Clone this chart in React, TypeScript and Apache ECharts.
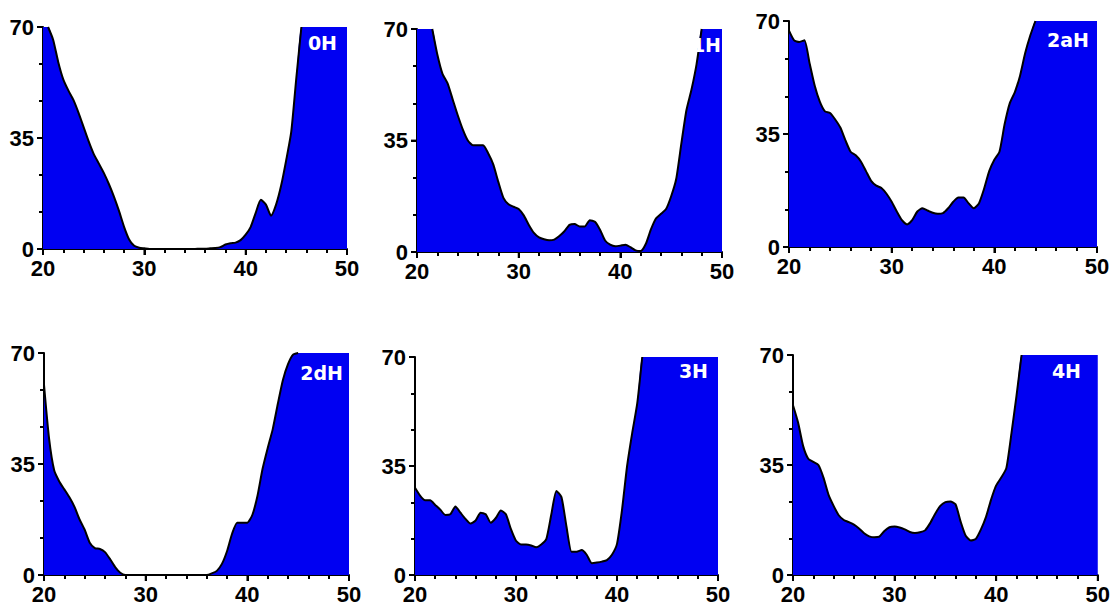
import React, { useEffect, useRef } from "react";
import * as echarts from "echarts";

// x positions (sampled every 0.5 unit)
const X = [
  20, 20.5, 21, 21.5, 22, 22.5, 23, 23.5, 24, 24.5, 25, 25.5, 26, 26.5, 27, 27.5, 28, 28.5, 29, 29.5,
  30, 30.5, 31, 31.5, 32, 32.5, 33, 33.5, 34, 34.5, 35, 35.5, 36, 36.5, 37, 37.5, 38, 38.5, 39, 39.5,
  40, 40.5, 41, 41.5, 42, 42.5, 43, 43.5, 44, 44.5, 45, 45.5, 46, 46.5, 47, 47.5, 48, 48.5, 49, 49.5,
  50,
];

const H0 = [
  70, 70, 66, 59, 53.5, 50, 47, 43, 38.5, 34, 30, 27, 24, 20.5, 16.5, 12, 7, 3, 1, 0.4,
  0.2, 0, 0, 0, 0, 0, 0, 0, 0, 0, 0, 0.1, 0.1, 0.2, 0.3, 0.6, 1.4, 1.8, 2, 2.8,
  4.5, 7, 11.5, 15.5, 14, 10.5, 14, 20, 28, 37, 54, 70, 70, 70, 70, 70, 70, 70, 70, 70,
  70,
];

const H1 = [
  70, 70, 70, 70, 62, 56, 53, 48, 43, 38.5, 35, 33.5, 33.5, 33.5, 31, 27.5, 22, 17, 15, 14.2,
  13.5, 11.5, 8.5, 6, 4.6, 4, 3.7, 3.9, 5, 6.5, 8.5, 8.8, 8, 8, 10, 9.5, 7, 3.6, 2.3, 1.8,
  2, 2.3, 1.5, 0.5, 0.3, 2.5, 7, 10.5, 12, 13.5, 17.5, 23, 34, 44.5, 51, 59, 70, 70, 70, 70,
  70,
];

const H2a = [
  67, 64, 63.5, 64, 57, 50, 45, 42, 41.5, 39.5, 37, 33, 29.5, 28.4, 26.5, 23.5, 20.5, 19, 18.3, 16.5,
  14, 11, 8.3, 7, 8.3, 11, 12, 11.3, 10.6, 10.3, 10.5, 12, 14, 15.3, 15.3, 13.5, 12, 13.5, 18, 23.5,
  27, 29.5, 38, 44.5, 48, 53, 60, 65.5, 70, 70, 70, 70, 70, 70, 70, 70, 70, 70, 70, 70,
  70,
];

const H2d = [
  60, 43, 33, 29.5, 27, 24.5, 21.5, 17.5, 14.3, 10.2, 8.5, 8.2, 7.2, 5, 2.5, 0.7, 0, 0, 0, 0,
  0, 0, 0, 0, 0, 0, 0, 0, 0, 0, 0, 0, 0, 0.5, 1.3, 3.5, 7.5, 13, 16.5, 16.5,
  16.5, 19, 25, 33.5, 40, 46, 54, 61.5, 66.5, 69.5, 70, 70, 70, 70, 70, 70, 70, 70, 70, 70,
  70,
];

const H3 = [
  28, 25.5, 24, 24, 22.5, 21, 19.3, 19.5, 22, 20, 18, 16.5, 17.5, 20, 19.5, 16.8, 18.3, 20.7, 19.5, 14.7,
  11, 9.8, 9.8, 9.5, 8.9, 9.8, 11.5, 19.5, 27, 25, 15.5, 7.5, 7.5, 8, 6.5, 3.8, 4, 4.3, 4.8, 6.5,
  10, 21, 35, 45.5, 55, 70, 70, 70, 70, 70, 70, 70, 70, 70, 70, 70, 70, 70, 70, 70,
  70,
];

const H4 = [
  54, 48.5, 41, 37, 36, 35, 31, 25.5, 22, 19, 17.5, 16.8, 16, 14.8, 13.3, 12.3, 12, 12.2, 14, 15.2,
  15.4, 15.1, 14.5, 13.7, 13.4, 13.6, 14.2, 16.5, 19.5, 22, 23.2, 23.4, 22.5, 17, 12.5, 11, 11.5, 14.5, 18.5, 24,
  28.5, 31, 34, 45, 57, 70, 70, 70, 70, 70, 70, 70, 70, 70, 70, 70, 70, 70, 70, 70,
  70,
];

const PANEL_LABELS = ["0H", "1H", "2aH", "2dH", "3H", "4H"];
const SERIES_DATA = [H0, H1, H2a, H2d, H3, H4];
const X_TICKS = [20, 30, 40, 50];
const Y_TICKS = [0, 35, 70];
const X_MIN = 20;
const X_MAX = 50;
const X_STEP = 10;
const Y_MIN = 0;
const Y_MAX = 70;
const Y_STEP = 35;

const GRIDS = [
  { left: 43, top: 27, width: 304, height: 222 },
  { left: 417, top: 29, width: 305, height: 223 },
  { left: 789, top: 21, width: 308, height: 226 },
  { left: 44, top: 353, width: 305, height: 222 },
  { left: 415, top: 357, width: 303, height: 221 },
  { left: 793, top: 355, width: 306, height: 222 },
];
// panel-name placement: [gap from plot's right edge, offset below plot's top]
const LABEL_POS = [
  [10, 6],
  [1, 6],
  [8, 9],
  [6, 10],
  [10, 4],
  [18, 6],
];

const FONT = "'Liberation Sans', Arial, sans-serif";
const LABEL_FONT = "'DejaVu Sans', 'Liberation Sans', Arial, sans-serif";

export default function App() {
  const ref = useRef<HTMLDivElement>(null);

  useEffect(() => {
    if (!ref.current) return;
    const chart = echarts.init(ref.current, undefined, { renderer: "svg" });

    const tickStyle = { color: "#000", width: 2 };
    const labelStyle = {
      color: "#000",
      fontWeight: "bold",
      fontSize: 22,
      fontFamily: FONT,
    };

    // blue filled area (no outline)
    const areaSeries = SERIES_DATA.map((ys, i) => ({
      type: "line",
      name: PANEL_LABELS[i],
      xAxisIndex: i,
      yAxisIndex: i,
      data: X.map((x, j) => [x, ys[j]]),
      symbol: "none",
      showSymbol: false,
      smooth: 0.2,
      clip: true,
      silent: true,
      lineStyle: { width: 0, opacity: 0 },
      areaStyle: { color: "#0000f2", opacity: 1 },
      z: 2,
    }));

    // black outline, left out along the flat top where the curve is clipped
    const outlineSeries = SERIES_DATA.map((ys, i) => ({
      type: "line",
      name: PANEL_LABELS[i] + " outline",
      xAxisIndex: i,
      yAxisIndex: i,
      data: X.map((x, j) => {
        const v = ys[j];
        const prev = j > 0 ? ys[j - 1] : Y_MAX;
        const next = j < ys.length - 1 ? ys[j + 1] : Y_MAX;
        const onCeiling = v >= Y_MAX && prev >= Y_MAX && next >= Y_MAX;
        return [x, onCeiling ? "-" : v];
      }),
      connectNulls: false,
      symbol: "none",
      showSymbol: false,
      smooth: 0.2,
      clip: true,
      silent: true,
      lineStyle: { color: "#000", width: 2 },
      z: 3,
    }));

    // major tick marks, placed through the axes' own scales
    const xTickSeries = GRIDS.map((_, i) => ({
      type: "scatter",
      xAxisIndex: i,
      yAxisIndex: i,
      data: X_TICKS.map((v) => [v, Y_MIN]),
      symbol: "rect",
      symbolSize: [2, 6],
      symbolOffset: [0, 3],
      itemStyle: { color: "#000" },
      clip: false,
      silent: true,
      z: 5,
    }));
    const yTickSeries = GRIDS.map((_, i) => ({
      type: "scatter",
      xAxisIndex: i,
      yAxisIndex: i,
      data: Y_TICKS.map((v) => [X_MIN, v]),
      symbol: "rect",
      symbolSize: [6, 2],
      symbolOffset: [-3, 0],
      itemStyle: { color: "#000" },
      clip: false,
      silent: true,
      z: 5,
    }));

    const option: any = {
      animation: false,
      backgroundColor: "#ffffff",
      grid: GRIDS.map((g) => ({ ...g, containLabel: false })),
      xAxis: GRIDS.map((_, i) => ({
        gridIndex: i,
        type: "value",
        min: X_MIN,
        max: X_MAX,
        interval: X_STEP,
        axisLine: { show: true, onZero: false, lineStyle: { color: "#000", width: 2 } },
        axisTick: { show: true, inside: false, length: 6, lineStyle: tickStyle },
        minorTick: { show: true, splitNumber: 5, length: 4, lineStyle: tickStyle },
        splitLine: { show: false },
        minorSplitLine: { show: false },
        axisLabel: { ...labelStyle, margin: 8 },
      })),
      yAxis: GRIDS.map((_, i) => ({
        gridIndex: i,
        type: "value",
        min: Y_MIN,
        max: Y_MAX,
        interval: Y_STEP,
        axisLine: { show: true, onZero: false, lineStyle: { color: "#000", width: 2 } },
        axisTick: { show: true, inside: false, length: 6, lineStyle: tickStyle },
        minorTick: { show: true, splitNumber: 3, length: 4, lineStyle: tickStyle },
        splitLine: { show: false },
        minorSplitLine: { show: false },
        axisLabel: { ...labelStyle, margin: 9 },
      })),
      series: [...areaSeries, ...outlineSeries, ...xTickSeries, ...yTickSeries],
      graphic: GRIDS.map((g, i) => ({
        type: "text",
        x: g.left + g.width - LABEL_POS[i][0],
        y: g.top + LABEL_POS[i][1],
        z: 100,
        style: {
          text: PANEL_LABELS[i],
          fill: "#ffffff",
          font: `bold 19px ${LABEL_FONT}`,
          textAlign: "right",
          align: "right",
          textVerticalAlign: "top",
          verticalAlign: "top",
        },
      })),
    };

    chart.setOption(option);
    return () => chart.dispose();
  }, []);

  return (
    <div
      ref={ref}
      style={{
        position: "fixed",
        left: 0,
        top: 0,
        width: 1113,
        height: 605,
        background: "#fff",
      }}
    />
  );
}
